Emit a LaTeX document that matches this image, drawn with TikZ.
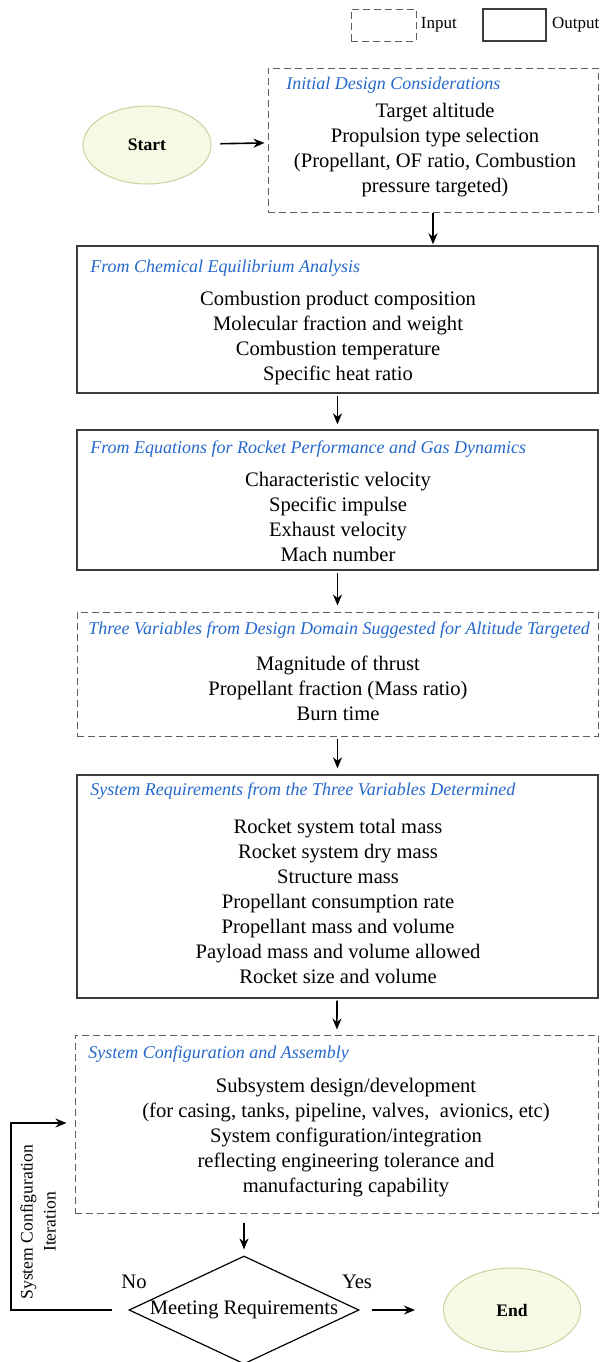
\documentclass[tikz,border=0pt]{standalone}
\usepackage{fontspec}
\setmainfont{Liberation Serif}
\usepackage{tikz}
\usetikzlibrary{arrows.meta,shapes,positioning}
\usepackage{xcolor}
\definecolor{hdblue}{RGB}{36,104,204}
\definecolor{boxgray}{RGB}{60,60,60}
\definecolor{dashgray}{RGB}{95,95,95}
\definecolor{ovalfill}{RGB}{246,249,228}
\definecolor{ovaldraw}{RGB}{196,214,160}
\tikzstyle{outbox} = [rectangle, draw=boxgray, line width=0.7pt, inner sep=0pt]
\tikzstyle{inbox} = [rectangle, draw=dashgray, line width=0.5pt, dash pattern=on 3.5pt off 2pt, inner sep=0pt]
\tikzstyle{heading} = [anchor=west, inner sep=0pt, text=hdblue, font=\fontsize{9}{11}\selectfont\itshape]
\tikzstyle{body} = [align=center, inner sep=0pt, font=\fontsize{10.3}{12.5}\selectfont]
\tikzstyle{legend} = [inner sep=0pt, font=\fontsize{8.5}{10}\selectfont]
\tikzstyle{terminal} = [ellipse, draw=ovaldraw, fill=ovalfill, line width=0.5pt, inner sep=0pt, font=\fontsize{8.8}{10}\selectfont\bfseries]
\tikzstyle{decision} = [diamond, draw=black, line width=0.6pt, inner sep=0pt, minimum width=115pt, minimum height=54pt]
\tikzstyle{arrow} = [line width=0.8pt, -{Stealth[length=5.5pt, width=4.5pt]}]
\begin{document}
\begin{tikzpicture}[x=0.5pt, y=-0.5pt]
\useasboundingbox (0,0) rectangle (602,1362);

% Legend
\node (legin) [inbox, minimum width=32.5pt, minimum height=16pt] at (383.5,25) {};
\node (legintext) [legend, right=2pt of legin] {Input};
\node (legout) [outbox, minimum width=31.5pt, minimum height=16pt] at (514.5,25) {};
\node (legouttext) [legend, right=2.5pt of legout] {Output};

% Start and initial design
\node (start) [terminal, minimum width=64pt, minimum height=39pt] at (147,145) {Start};
\node (init) [inbox, minimum width=165pt, minimum height=72pt] at (433,140) {};
\node (inittitle) [heading] at (286,85) {Initial Design Considerations};
\node (initbody) [body] at (435,150) {Target altitude\\Propulsion type selection\\(Propellant, OF ratio, Combustion\\pressure targeted)};

% Chemical equilibrium
\node (chem) [outbox, minimum width=260.5pt, minimum height=73.5pt] at (337.5,319.5) {};
\node (chemtitle) [heading] at (90,268) {From Chemical Equilibrium Analysis};
\node (chembody) [body] at (338,338) {Combustion product composition\\Molecular fraction and weight\\Combustion temperature\\Specific heat ratio};

% Rocket performance
\node (perf) [outbox, minimum width=260.5pt, minimum height=70pt] at (337.5,500) {};
\node (perftitle) [heading] at (90,449) {From Equations for Rocket Performance and Gas Dynamics};
\node (perfbody) [body] at (338,517) {Characteristic velocity\\Specific impulse\\Exhaust velocity\\Mach number};

% Three variables
\node (vars) [inbox, minimum width=260.5pt, minimum height=62pt] at (337.5,674) {};
\node (varstitle) [heading] at (88,630) {Three Variables from Design Domain Suggested for Altitude Targeted};
\node (varsbody) [body] at (338,688) {Magnitude of thrust\\Propellant fraction (Mass ratio)\\Burn time};

% System requirements
\node (reqs) [outbox, minimum width=260.5pt, minimum height=111.5pt] at (337.5,886.5) {};
\node (reqstitle) [heading] at (90,791) {System Requirements from the Three Variables Determined};
\node (reqsbody) [body] at (338,901) {Rocket system total mass\\Rocket system dry mass\\Structure mass\\Propellant consumption rate\\Propellant mass and volume\\Payload mass and volume allowed\\Rocket size and volume};

% Configuration and assembly
\node (config) [inbox, minimum width=261.5pt, minimum height=89pt] at (336.5,1124) {};
\node (configtitle) [heading] at (88,1054) {System Configuration and Assembly};
\node (configbody) [body] at (346,1138) {Subsystem design/development\\(for casing, tanks, pipeline, valves,\ \ avionics, etc)\\System configuration/integration\\reflecting engineering tolerance and\\manufacturing capability};

% Decision and end
\node (check) [decision, label={[body]center:Meeting Requirements}] at (244,1310) {};
\node (no) [body] at (134,1282) {No};
\node (yes) [body] at (357,1282) {Yes};
\node (finish) [terminal, minimum width=68.5pt, minimum height=42pt] at (512,1310) {End};
\coordinate (loop) at (11,1123);
\node (iterlabel) [body, rotate=90, font=\fontsize{8.8}{11.5}\selectfont] at (38,1222) {System Configuration\\Iteration};

% Connections
\draw[arrow, shorten <=4.5pt, shorten >=1.5pt] (start) -- (init);
\draw[arrow, shorten >=0.5pt] (init.south) -- (init.south |- chem.north);
\draw[arrow, shorten <=1pt, shorten >=2.5pt] (chem) -- (perf);
\draw[arrow, shorten <=1pt, shorten >=3pt] (perf) -- (vars);
\draw[arrow, shorten <=1pt, shorten >=3pt] (vars) -- (reqs);
\draw[arrow, shorten <=1pt, shorten >=2.5pt] (reqs) -- (config);
\draw[arrow, shorten <=4.5pt, shorten >=3pt] (check.north |- config.south) -- (check.north);
\draw[arrow, shorten <=6pt, shorten >=14pt] (check.east) -- (finish.west);
\draw[arrow, shorten >=4pt] ([xshift=-8pt]check.west) -| (loop) -- (loop -| config.west);
\end{tikzpicture}
\end{document}
